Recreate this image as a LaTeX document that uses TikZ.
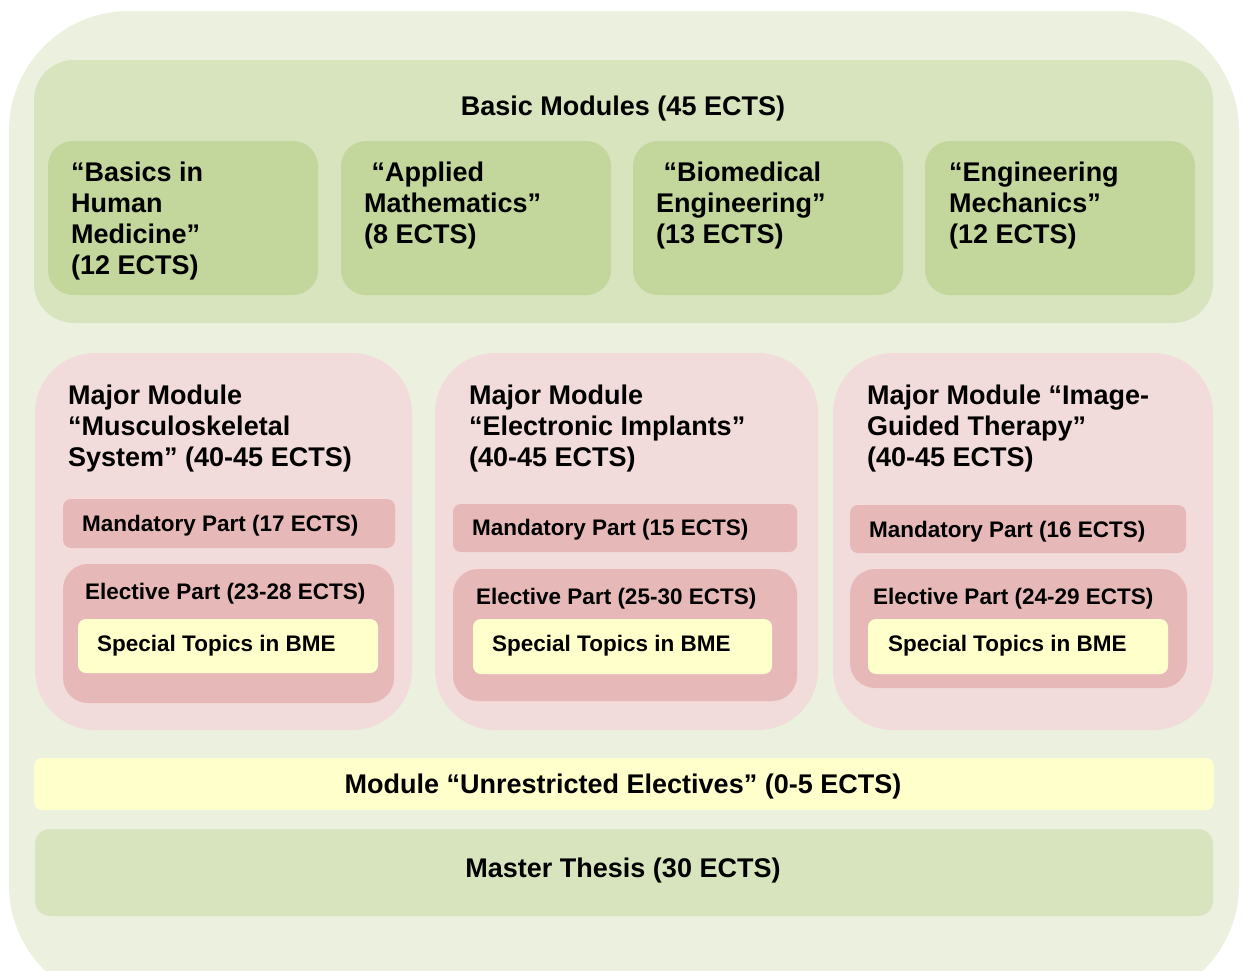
\documentclass[tikz,border=0pt]{standalone}
\usepackage{fontspec}
\setmainfont{Liberation Sans}
\definecolor{gOuter}{HTML}{EBF1DE}
\definecolor{gMid}{HTML}{D7E4BD}
\definecolor{gDark}{HTML}{C3D69B}
\definecolor{rLight}{HTML}{F2DCDB}
\definecolor{rMid}{HTML}{E6B9B8}
\definecolor{yLight}{HTML}{FFFFCC}
\begin{document}
\begin{tikzpicture}[x=1pt,y=-1pt,
  panel/.style={inner sep=0pt, outer sep=0pt, anchor=north west, draw=none},
  bigtxt/.style={inner sep=0pt, font=\fontsize{27}{31}\selectfont\bfseries, align=left},
  smalltxt/.style={inner sep=0pt, font=\fontsize{22.5}{26}\selectfont\bfseries, anchor=base west},
]
\useasboundingbox (0,0) rectangle (1242,970);
\clip (0,0) rectangle (1242,970);
% outer frame
\fill[gOuter, rounded corners=120pt] (9,11) rectangle (1239,1005);
% basic modules
\node[panel, fill=gMid, rounded corners=40pt, minimum width=1179pt, minimum height=263pt] (basic) at (34,60) {};
\node[bigtxt, anchor=base] (basict) at (623,115.7) {Basic Modules (45 ECTS)};
\foreach \n/\x in {b1/48, b2/341, b3/633, b4/925}
  \node[panel, fill=gDark, rounded corners=25pt, minimum width=270pt, minimum height=154pt] (\n) at (\x,141) {};
\node[bigtxt, anchor=north west] (b1t) at (71,162) {“Basics in\\Human\\Medicine”\\(12 ECTS)};
\node[bigtxt, anchor=north west] (b2t) at (364,162) {\ “Applied\\Mathematics”\\(8 ECTS)};
\node[bigtxt, anchor=north west] (b3t) at (656,162) {\ “Biomedical\\Engineering”\\(13 ECTS)};
\node[bigtxt, anchor=north west] (b4t) at (949,162) {“Engineering\\Mechanics”\\(12 ECTS)};
% major modules
\node[panel, fill=rLight, rounded corners=60pt, minimum width=377pt, minimum height=377pt] (majA) at (35,353) {};
\node[panel, fill=rLight, rounded corners=60pt, minimum width=383pt, minimum height=377pt] (majB) at (435,353) {};
\node[panel, fill=rLight, rounded corners=60pt, minimum width=380pt, minimum height=377pt] (majC) at (833,353) {};
\node[bigtxt, anchor=north west] (majAt) at (68,385) {Major Module\\“Musculoskeletal\\System” (40-45 ECTS)};
\node[bigtxt, anchor=north west] (majBt) at (469,385) {Major Module\\“Electronic Implants”\\(40-45 ECTS)};
\node[bigtxt, anchor=north west] (majCt) at (867,385) {Major Module “Image-\\Guided Therapy”\\(40-45 ECTS)};
% mandatory parts
\node[panel, fill=rMid, rounded corners=8pt, minimum width=332pt, minimum height=49pt] (mandA) at (63,499) {};
\node[panel, fill=rMid, rounded corners=8pt, minimum width=344pt, minimum height=48pt] (mandB) at (453,504) {};
\node[panel, fill=rMid, rounded corners=8pt, minimum width=336pt, minimum height=48pt] (mandC) at (850,505) {};
\node[smalltxt] (mandAt) at (82,531) {Mandatory Part (17 ECTS)};
\node[smalltxt] (mandBt) at (472,535) {Mandatory Part (15 ECTS)};
\node[smalltxt] (mandCt) at (869,537) {Mandatory Part (16 ECTS)};
% elective parts
\node[panel, fill=rMid, rounded corners=25pt, minimum width=331pt, minimum height=139pt] (elA) at (63,564) {};
\node[panel, fill=rMid, rounded corners=25pt, minimum width=344pt, minimum height=132pt] (elB) at (453,569) {};
\node[panel, fill=rMid, rounded corners=25pt, minimum width=337pt, minimum height=119pt] (elC) at (850,569) {};
\node[smalltxt] (elAt) at (85,599) {Elective Part (23-28 ECTS)};
\node[smalltxt] (elBt) at (476,604) {Elective Part (25-30 ECTS)};
\node[smalltxt] (elCt) at (873,604) {Elective Part (24-29 ECTS)};
% special topics
\node[panel, fill=yLight, rounded corners=8pt, minimum width=300pt, minimum height=54pt] (spA) at (78,619) {};
\node[panel, fill=yLight, rounded corners=8pt, minimum width=299pt, minimum height=55pt] (spB) at (473,619) {};
\node[panel, fill=yLight, rounded corners=8pt, minimum width=300pt, minimum height=55pt] (spC) at (868,619) {};
\node[smalltxt] (spAt) at (97,651) {Special Topics in BME};
\node[smalltxt] (spBt) at (492,651) {Special Topics in BME};
\node[smalltxt] (spCt) at (888,651) {Special Topics in BME};
% bottom bars
\node[panel, fill=yLight, rounded corners=8pt, minimum width=1180pt, minimum height=52pt] (unres) at (34,758) {};
\node[bigtxt, anchor=base] (unrest) at (623,793.7) {Module “Unrestricted Electives” (0-5 ECTS)};
\node[panel, fill=gMid, rounded corners=15pt, minimum width=1178pt, minimum height=87pt] (thesis) at (35,829) {};
\node[bigtxt, anchor=base] (thesist) at (623,877.7) {Master Thesis (30 ECTS)};
\end{tikzpicture}
\end{document}
